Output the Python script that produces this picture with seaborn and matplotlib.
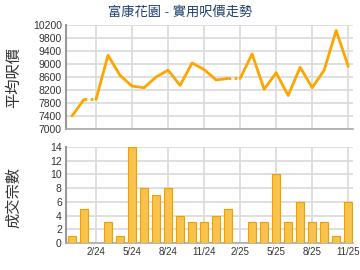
import matplotlib
matplotlib.use("Agg")
import matplotlib.pyplot as plt
import seaborn as sns
import numpy as np
import pandas as pd

months = ["12/23", "1/24", "2/24", "3/24", "4/24", "5/24", "6/24", "7/24", "8/24", "9/24",
          "10/24", "11/24", "12/24", "1/25", "2/25", "3/25", "4/25", "5/25", "6/25", "7/25",
          "8/25", "9/25", "10/25", "11/25"]
price = [7400, 7910, 7910, 9270, 8650, 8320, 8270, 8600, 8810, 8340,
         9030, 8830, 8510, 8555, 8555, 9310, 8220, 8730, 8030, 8900,
         8270, 8810, 10030, 8930]
# segment id for solid line pieces; dotted pieces connect gaps
solid_seg = [0, 0, 1, 1, 1, 1, 1, 1, 1, 1, 1, 1, 1, 1, 2, 2, 2, 2, 2, 2, 2, 2, 2, 2]
dotted_pairs = [(1, 2), (13, 14)]
volume = [1, 5, 0, 3, 1, 14, 8, 7, 8, 4, 3, 3, 4, 5, 0, 3, 3, 10, 3, 6, 3, 3, 1, 6]
tick_idx = [2, 5, 8, 11, 14, 17, 20, 23]
tick_labels = ["2/24", "5/24", "8/24", "11/24", "2/25", "5/25", "8/25", "11/25"]
price_ticks = list(range(7000, 10201, 400))
vol_ticks = list(range(0, 15, 2))

title = "富康花園 - 實用呎價走勢"
ylab_top = "平均呎價"
ylab_bot = "成交宗數"

sns.set_theme(style="white")
plt.rcParams['font.family'] = ['Liberation Sans', 'Noto Sans CJK TC', 'DejaVu Sans']

W, H = 360, 270
fig = plt.figure(figsize=(W / 100, H / 100), dpi=100)

def px_axes(l, t, r, b):
    return fig.add_axes([l / W, 1 - b / H, (r - l) / W, (b - t) / H])

ax1 = px_axes(66, 25, 353, 129)
ax2 = px_axes(66, 147, 353, 243)

line_col = "#FFA500"
grid_col = "#DCDCDC"
txt_col = "#333333"

df = pd.DataFrame({"i": np.arange(len(months)), "price": price, "seg": solid_seg})
sns.lineplot(data=df, x="i", y="price", units="seg", estimator=None, ax=ax1,
             color=line_col, linewidth=2, zorder=3)
for a, b in dotted_pairs:
    sub = df.iloc[[a, b]]
    sns.lineplot(data=sub, x="i", y="price", ax=ax1, color=line_col, linewidth=2,
                 linestyle=(0, (1, 1.2)), zorder=3)

dfv = pd.DataFrame({"i": np.arange(len(months)), "vol": volume})
sns.barplot(data=dfv, x="i", y="vol", ax=ax2, color="#F8C24E", width=0.68,
            edgecolor="#EFA000", linewidth=0.8, saturation=1, zorder=3)

for ax in (ax1, ax2):
    ax.set_xlim(-0.5, 23.4)
    ax.set_xticks(tick_idx)
    ax.grid(True, color=grid_col, linewidth=1.3, zorder=0)
    ax.set_axisbelow(True)
    for s in ("top", "right"):
        ax.spines[s].set_visible(False)
    ax.spines["left"].set_color("#999999")
    ax.spines["left"].set_linewidth(1.5)
    ax.spines["bottom"].set_color("#AAAAAA")
    ax.spines["bottom"].set_linewidth(1.2)
    ax.tick_params(axis="both", length=0, labelsize=7.5, colors=txt_col, pad=3)
    ax.tick_params(axis="x", labelsize=7)
    ax.set_xlabel("")

ax1.set_ylim(7000, 10200)
ax1.set_yticks(price_ticks)
ax1.set_xticklabels([])
ax1.set_ylabel(ylab_top, fontsize=11, color=txt_col)
ax1.yaxis.set_label_coords(-0.155, 0.5)

ax2.set_ylim(0, 14)
ax2.set_yticks(vol_ticks)
ax2.set_xticklabels(tick_labels)
ax2.set_ylabel(ylab_bot, fontsize=11, color=txt_col)
ax2.yaxis.set_label_coords(-0.155, 0.47)

fig.text(180 / W, 1 - 12 / H, title, ha="center", va="center", fontsize=9.5, color="#1F3F6F")

fig.savefig("out.png", dpi=100)
